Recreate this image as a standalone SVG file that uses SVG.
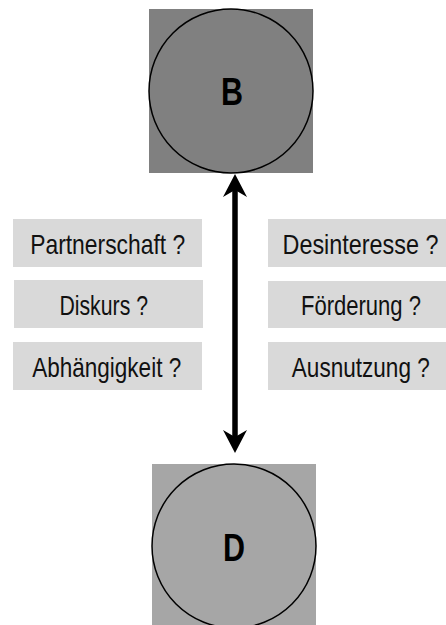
<svg xmlns="http://www.w3.org/2000/svg" width="446" height="625" viewBox="0 0 446 625">
<style>
.lbl{fill:#d9d9d9}
.lt{font-family:"Liberation Sans",Arial,sans-serif;font-size:28px;fill:#111;text-anchor:middle}
.nt{font-family:"Liberation Sans",Arial,sans-serif;font-size:39px;font-weight:bold;fill:#000;text-anchor:middle}
.circ{fill:none;stroke:#000;stroke-width:1.5}
.conn{stroke:#000;stroke-width:5.5;fill:none}
</style>
<defs>
<marker id="ah" viewBox="0 -12 24 24" refX="7" refY="0" markerWidth="24" markerHeight="24" markerUnits="userSpaceOnUse" orient="auto-start-reverse">
<path d="M0,-12 L23,0 L0,12 L7,0 Z" fill="#000"/>
</marker>
</defs>
<g id="node-B">
<rect x="149" y="9" width="164" height="164" fill="#808080"/>
<circle class="circ" cx="231" cy="91" r="82"/>
<text class="nt" x="232" y="105" textLength="22" lengthAdjust="spacingAndGlyphs">B</text>
</g>
<g id="node-D">
<rect x="152" y="464" width="164" height="164" fill="#a6a6a6"/>
<circle class="circ" cx="234" cy="546" r="82"/>
<text class="nt" x="234" y="561" textLength="22" lengthAdjust="spacingAndGlyphs">D</text>
</g>
<g id="connectors">
<line class="conn" x1="235" y1="190" x2="235" y2="437" marker-start="url(#ah)" marker-end="url(#ah)"/>
</g>
<g id="label-partnerschaft">
<rect class="lbl" x="13" y="219" width="189" height="48"/>
<text class="lt" x="107.7" y="254" textLength="155" lengthAdjust="spacingAndGlyphs">Partnerschaft ?</text>
</g>
<g id="label-diskurs">
<rect class="lbl" x="14" y="280" width="189" height="48"/>
<text class="lt" x="103.7" y="315" textLength="88.6" lengthAdjust="spacingAndGlyphs">Diskurs ?</text>
</g>
<g id="label-abhaengigkeit">
<rect class="lbl" x="13" y="342" width="189" height="48"/>
<text class="lt" x="106.7" y="377" textLength="149" lengthAdjust="spacingAndGlyphs">Abhängigkeit ?</text>
</g>
<g id="label-desinteresse">
<rect class="lbl" x="268" y="219" width="178" height="48"/>
<text class="lt" x="360.5" y="254" textLength="156" lengthAdjust="spacingAndGlyphs">Desinteresse ?</text>
</g>
<g id="label-foerderung">
<rect class="lbl" x="268" y="281" width="178" height="47"/>
<text class="lt" x="361" y="315" textLength="120" lengthAdjust="spacingAndGlyphs">Förderung ?</text>
</g>
<g id="label-ausnutzung">
<rect class="lbl" x="268" y="342" width="178" height="48"/>
<text class="lt" x="360.8" y="377" textLength="138" lengthAdjust="spacingAndGlyphs">Ausnutzung ?</text>
</g>
</svg>
